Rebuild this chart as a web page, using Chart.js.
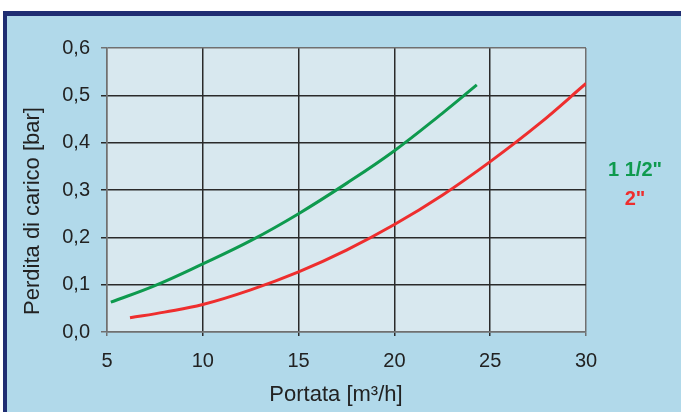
<!DOCTYPE html>
<html>
<head>
<meta charset="utf-8">
<script src="https://cdn.jsdelivr.net/npm/chart.js@4"></script>
<style>
    body { margin: 0; background: #ffffff; }
    #frame {
        position: absolute; left: 3px; top: 11px; width: 674px; height: 396px;
        background: #b1d9ea;
        border-top: 5px solid #1f2d72;
        border-left: 4px solid #1f2d72;
    }
    #grafico { position: absolute; left: 0; top: 0; }
    .leg {
        position: absolute; width: 100px; text-align: center;
        font: bold 20px 'Liberation Sans', Arial, sans-serif;
    }
</style>
</head>
<body>
<div id="frame"></div>
<canvas id="grafico" width="681" height="412"></canvas>
<div class="leg" style="left:585px; top:158px; color:#0e9a4e;">1 1/2"</div>
<div class="leg" style="left:585px; top:187px; color:#ee2e2e;">2"</div>
<script>
// Dati
const portata15 = [5.2, 7.5, 10, 12.5, 15, 17.5, 20, 22.5, 24.3];
const perdita15 = [0.063, 0.098, 0.144, 0.193, 0.25, 0.314, 0.383, 0.462, 0.522];
const portata2 = [6.2, 8, 10, 12.5, 15, 17.5, 20, 22.5, 25, 27.5, 30];
const perdita2 = [0.030, 0.042, 0.058, 0.089, 0.127, 0.173, 0.227, 0.289, 0.36, 0.438, 0.525];
const xTicks = [5, 10, 15, 20, 25, 30];
const yTicks = [0, 0.1, 0.2, 0.3, 0.4, 0.5, 0.6];

const FONT = "'Liberation Sans', Arial, sans-serif";

// Sfondo area grafico e titoli assi
const sfondo = {
    id: 'sfondo',
    beforeDraw(chart) {
        const { ctx, chartArea: a } = chart;
        ctx.save();
        ctx.fillStyle = '#d8e8ef';
        ctx.fillRect(a.left, a.top, a.right - a.left, a.bottom - a.top);
        ctx.restore();
    },
    afterDraw(chart) {
        const ctx = chart.ctx;
        ctx.save();
        ctx.fillStyle = '#222222';
        ctx.font = '22px ' + FONT;
        ctx.textAlign = 'center';
        ctx.textBaseline = 'middle';
        ctx.fillText('Portata [m³/h]', 336, 395);
        ctx.translate(33, 211);
        ctx.rotate(-Math.PI / 2);
        ctx.fillText('Perdita di carico [bar]', 0, 0);
        ctx.restore();
    }
};

function toPoints(xs, ys) {
    return xs.map((x, i) => ({ x: x, y: ys[i] }));
}

function gridColor(ctx) {
    const v = ctx.tick ? ctx.tick.value : null;
    if (ctx.scale.axis === 'x') {
        return (v === 5 || v === 30) ? '#707070' : '#2a2a2a';
    }
    return (v === 0 || v === 0.6) ? '#707070' : '#2a2a2a';
}

new Chart(document.getElementById('grafico'), {
    type: 'line',
    data: {
        datasets: [{
            label: '1 1/2"',
            data: toPoints(portata15, perdita15),
            borderColor: '#0e9a4e',
            borderWidth: 3,
            pointRadius: 0,
            tension: 0.4
        }, {
            label: '2"',
            data: toPoints(portata2, perdita2),
            borderColor: '#ee2e2e',
            borderWidth: 3,
            pointRadius: 0,
            tension: 0.4
        }]
    },
    options: {
        responsive: false,
        animation: false,
        devicePixelRatio: 1,
        layout: { padding: { left: 0, top: 48, right: 95, bottom: 0 } },
        plugins: {
            legend: { display: false },
            tooltip: { enabled: false }
        },
        scales: {
            x: {
                type: 'linear',
                min: 5,
                max: 30,
                afterFit: s => { s.height = 80; },
                afterBuildTicks: s => { s.ticks = xTicks.map(v => ({ value: v })); },
                ticks: {
                    color: '#222222',
                    font: { family: FONT, size: 20 },
                    padding: 13,
                    maxRotation: 0
                },
                grid: { color: gridColor, lineWidth: 1.5, tickLength: 4 },
                border: { color: '#707070', width: 1.5 }
            },
            y: {
                min: 0,
                max: 0.6,
                afterFit: s => { s.width = 107; },
                afterBuildTicks: s => { s.ticks = yTicks.map(v => ({ value: v })); },
                ticks: {
                    color: '#222222',
                    font: { family: FONT, size: 20 },
                    padding: 11,
                    callback: v => v.toFixed(1).replace('.', ',')
                },
                grid: { color: gridColor, lineWidth: 1.5, tickLength: 6 },
                border: { color: '#707070', width: 1.5 }
            }
        }
    },
    plugins: [sfondo]
});
</script>
</body>
</html>
